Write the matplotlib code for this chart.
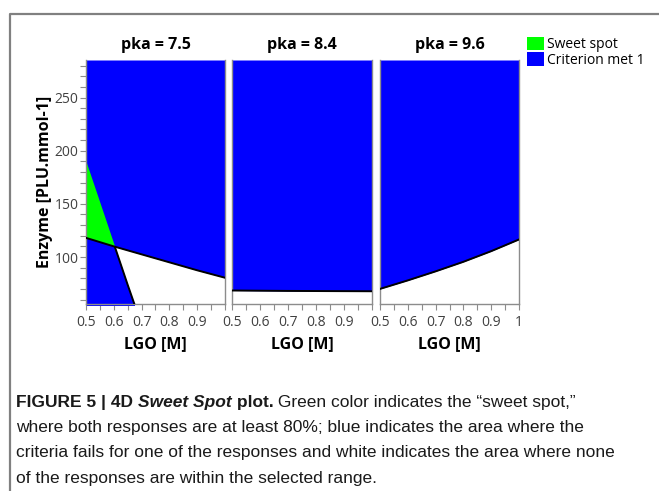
import matplotlib
matplotlib.use("Agg")
import matplotlib.pyplot as plt
import numpy as np
from matplotlib.lines import Line2D
from matplotlib.patches import Patch, Polygon
from matplotlib.ticker import MultipleLocator

# --- data -------------------------------------------------------------------
panel_titles = ["pka = 7.5", "pka = 8.4", "pka = 9.6"]
legend_labels = ["Sweet spot", "Criterion met 1"]

# lower boundary of "criterion met" region (LGO vs enzyme)
lgo_grid = [0.5, 0.6, 0.7, 0.8, 0.9, 1.0]
limit_pka75 = [118.0, 110.0, 102.5, 95.0, 87.5, 80.5]
limit_pka84 = [68.5, 68.3, 68.1, 68.0, 67.9, 67.8]
limit_pka96 = [70.0, 78.0, 86.5, 95.5, 105.5, 116.5]

# second response boundary, only inside the pka = 7.5 window
resp2_lgo = [0.5, 0.55, 0.6, 0.65, 0.675]
resp2_enzyme = [190.0, 151.3, 112.5, 73.8, 55.0]

YMIN, YMAX = 55.8, 285.3
XMIN, XMAX = 0.5, 1.0

GREEN = "#00ff00"
BLUE = "#0000ff"
SPINE = "#8c8c8c"
TICKTXT = "#404040"
CHART_FONT = ["Open Sans", "DejaVu Sans"]
CAPTION_FONT = ["Liberation Sans", "DejaVu Sans"]

fig = plt.figure(figsize=(6.59, 4.91), dpi=100)
W, H = 659.0, 491.0


def px_axes(left, top, right, bottom):
    return fig.add_axes([left / W, 1 - bottom / H, (right - left) / W, (bottom - top) / H])


axes = [
    px_axes(86, 60, 225, 304),
    px_axes(232, 60, 372, 304),
    px_axes(380, 60, 519, 304),
]
limits = [limit_pka75, limit_pka84, limit_pka96]

for i, (ax, lim, title) in enumerate(zip(axes, limits, panel_titles)):
    ax.set_xlim(XMIN, XMAX)
    ax.set_ylim(YMIN, YMAX)
    ax.fill_between(lgo_grid, lim, YMAX, color=BLUE, lw=0, zorder=1)
    ax.plot(lgo_grid, lim, color="black", lw=1.4, zorder=4)

    if i == 0:
        above = Polygon(
            list(zip(lgo_grid, lim)) + [(XMAX, YMAX + 50), (XMIN, YMAX + 50)],
            closed=True, transform=ax.transData, fill=False, lw=0,
        )
        below = Polygon(
            list(zip(lgo_grid, lim)) + [(XMAX, YMIN - 50), (XMIN, YMIN - 50)],
            closed=True, transform=ax.transData, fill=False, lw=0,
        )
        # left of response 2 boundary: green above limit, blue below
        sweet = ax.fill_betweenx(resp2_enzyme, XMIN, resp2_lgo, color=GREEN, lw=0, zorder=2)
        sweet.set_clip_path(above)
        rest = ax.fill_betweenx(resp2_enzyme, XMIN, resp2_lgo, color=BLUE, lw=0, zorder=2)
        rest.set_clip_path(below)
        edge, = ax.plot(resp2_lgo, resp2_enzyme, color="black", lw=1.4, zorder=4)
        edge.set_clip_path(below)

    ax.set_title(title, fontsize=11.5, fontweight="bold", family=CHART_FONT, pad=8)
    ax.set_xlabel("LGO [M]", fontsize=11.5, fontweight="bold", family=CHART_FONT)
    ax.xaxis.set_label_coords(0.5, -0.13)

    ax.xaxis.set_major_locator(MultipleLocator(0.1))
    ax.xaxis.set_minor_locator(MultipleLocator(0.05))
    if i < 2:
        ax.set_xticks([0.5, 0.6, 0.7, 0.8, 0.9])
        ax.set_xticklabels(["0.5", "0.6", "0.7", "0.8", "0.9"])
    else:
        ax.set_xticks([0.5, 0.6, 0.7, 0.8, 0.9, 1.0])
        ax.set_xticklabels(["0.5", "0.6", "0.7", "0.8", "0.9", "1"])

    if i == 0:
        ax.yaxis.set_major_locator(MultipleLocator(50))
        ax.yaxis.set_minor_locator(MultipleLocator(10))
        ax.set_ylabel("Enzyme [PLU.mmol-1]", fontsize=11.5, fontweight="bold", family=CHART_FONT)
        ax.yaxis.set_label_coords(-0.24, 0.5)
    else:
        ax.set_yticks([])
        ax.yaxis.set_minor_locator(plt.NullLocator())

    ax.tick_params(which="both", direction="out", color=SPINE, length=4, width=0.8,
                   labelsize=10, labelcolor=TICKTXT)
    ax.tick_params(axis="y", pad=1.5)
    ax.tick_params(axis="x", pad=4)
    for lbl in ax.get_xticklabels() + ax.get_yticklabels():
        lbl.set_family(CHART_FONT)
    for side in ("left", "right", "bottom"):
        ax.spines[side].set_color(SPINE)
        ax.spines[side].set_linewidth(1.0)
    ax.spines["top"].set_visible(False)

handles = [Patch(facecolor=GREEN, edgecolor="none"), Patch(facecolor=BLUE, edgecolor="none")]
fig.legend(handles, legend_labels, loc="upper left", bbox_to_anchor=(527 / W, 1 - 37 / H),
           frameon=False, handlelength=1.2, handleheight=1.1, labelspacing=0.0,
           handletextpad=0.25, borderpad=0, borderaxespad=0,
           prop={"family": CHART_FONT, "size": 10})

# outer frame of the figure panel
fig.add_artist(Line2D([9.5 / W, 9.5 / W, 1.0], [0.0, 1 - 13.5 / H, 1 - 13.5 / H],
                      transform=fig.transFigure, color="#808080", lw=1.6))

# caption, drawn piece by piece so bold/italic runs line up
renderer = fig.canvas.get_renderer()
cap_size = 12.5
lines = [
    [("FIGURE 5 | 4D ", "bold", "normal"), ("Sweet Spot", "bold", "italic"),
     (" plot.", "bold", "normal"),
     (" Green color indicates the \u201csweet spot,\u201d", "normal", "normal")],
    [("where both responses are at least 80%; blue indicates the area where the", "normal", "normal")],
    [("criteria fails for one of the responses and white indicates the area where none", "normal", "normal")],
    [("of the responses are within the selected range.", "normal", "normal")],
]
baselines = [406.5, 432, 457.5, 483]
for runs, base in zip(lines, baselines):
    x = 16.0
    for text, weight, style in runs:
        t = fig.text(x / W, 1 - base / H, text, fontsize=cap_size, fontweight=weight,
                     fontstyle=style, family=CAPTION_FONT, color="#1a1a1a", va="baseline")
        x += t.get_window_extent(renderer).width

fig.savefig("out.png", dpi=100)
